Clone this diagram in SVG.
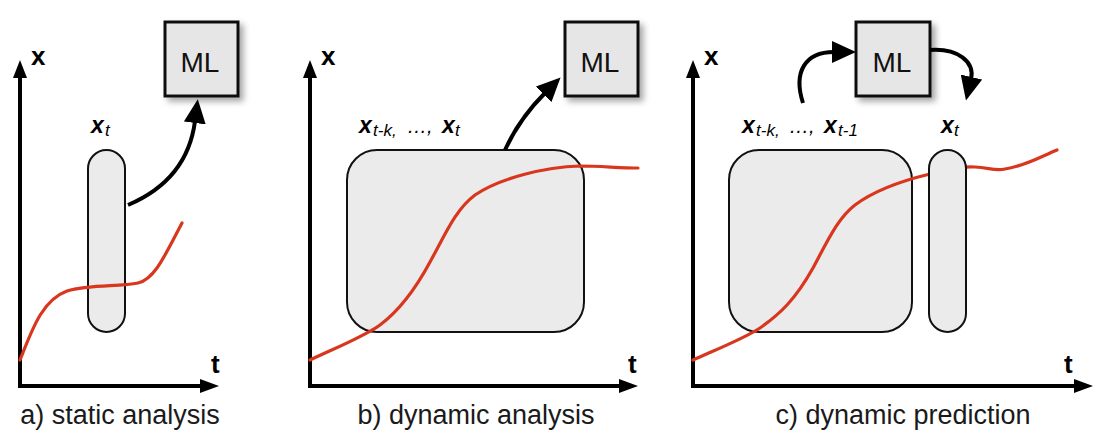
<svg xmlns="http://www.w3.org/2000/svg" width="1100" height="440" viewBox="0 0 1100 440">
<style>
.axis{fill:none;stroke:#000;stroke-width:4}
.head{fill:#000}
.region{fill:#ebebeb;stroke:#111;stroke-width:2}
.ml{fill:#e6e6e6;stroke:#111;stroke-width:3}
.mlt{font-family:"Liberation Sans",Arial,sans-serif;font-size:28px;fill:#111;text-anchor:middle}
.curve{fill:none;stroke:#d9361e;stroke-width:3.2;stroke-linecap:round}
.conn{fill:none;stroke:#000;stroke-width:4}
.ax{font-family:"Liberation Sans",Arial,sans-serif;font-size:26px;font-weight:bold;fill:#000}
.cap{font-family:"Liberation Sans",Arial,sans-serif;font-size:27px;fill:#1a1a1a;text-anchor:middle}
.v{font-family:"Liberation Sans",Arial,sans-serif;font-size:23px;font-weight:bold;font-style:italic;fill:#000}
.s{font-size:17px;font-weight:normal;font-style:italic}
.e{font-size:20px;font-weight:normal;font-style:italic}
</style>
<defs>
<filter id="sh" x="-20%" y="-20%" width="150%" height="150%">
<feDropShadow dx="4" dy="4" stdDeviation="3" flood-color="#000" flood-opacity="0.35"/>
</filter>
<marker id="ah" markerUnits="userSpaceOnUse" markerWidth="24" markerHeight="22" viewBox="0 0 24 22" refX="2" refY="11" orient="auto">
<path d="M0,0 L24,11 L0,22 z" fill="#000"/>
</marker>
</defs>

<g id="panel-a">
<g id="axes-a">
<path class="axis" d="M20,76 V386 H202"/>
<polygon class="head" points="20,60 13,78 27,78"/>
<polygon class="head" points="219,386 200,379 200,393"/>
<text class="ax" x="31" y="65">x</text>
<text class="ax" x="211" y="373">t</text>
</g>
<g id="xt-a">
<rect class="region" x="88" y="150" width="37" height="182" rx="18.5"/>
<text class="v" x="91" y="133">x<tspan class="s" x="105" y="136">t</tspan></text>
</g>
<path class="curve" d="M20,360 C32,330 42,300 67,291 C90,284 120,287 138,283 C155,279 165,255 182,223"/>
<g id="ml-a">
<rect class="ml" x="165" y="22" width="73" height="74" filter="url(#sh)"/>
<text class="mlt" x="200" y="72">ML</text>
</g>
<text class="cap" x="120" y="424">a) static analysis</text>
</g>

<g id="panel-b">
<g id="axes-b">
<path class="axis" d="M310,76 V386 H620"/>
<polygon class="head" points="310,60 303,78 317,78"/>
<polygon class="head" points="638,386 619,379 619,393"/>
<text class="ax" x="321" y="65">x</text>
<text class="ax" x="628" y="373">t</text>
</g>
<g id="window-b">
<rect class="region" x="347" y="150" width="237" height="182" rx="30"/>
<text class="v" x="359" y="133">x<tspan class="s" x="373" y="136">t-k,</tspan><tspan class="e" x="407" y="133">…,</tspan><tspan x="442" y="133">x</tspan><tspan class="s" x="455" y="136">t</tspan></text>
</g>
<path class="curve" d="M310,360 C340,346 365,336 380,325 C400,310 415,290 430,262 C445,235 455,210 475,195 C500,178 545,167 580,166 C600,166 620,168 638,168"/>
<g id="ml-b">
<rect class="ml" x="565" y="22" width="73" height="74" filter="url(#sh)"/>
<text class="mlt" x="600" y="72">ML</text>
</g>
<text class="cap" x="476" y="424">b) dynamic analysis</text>
</g>

<g id="panel-c">
<g id="axes-c">
<path class="axis" d="M693,76 V386 H1075"/>
<polygon class="head" points="693,60 686,78 700,78"/>
<polygon class="head" points="1093,386 1074,379 1074,393"/>
<text class="ax" x="704" y="65">x</text>
<text class="ax" x="1064" y="373">t</text>
</g>
<g id="window-c">
<rect class="region" x="729" y="150" width="183" height="182" rx="30"/>
<text class="v" x="742" y="133">x<tspan class="s" x="756" y="136">t-k,</tspan><tspan class="e" x="789" y="133">…,</tspan><tspan x="824" y="133">x</tspan><tspan class="s" x="838" y="136">t-1</tspan></text>
</g>
<path class="curve" d="M693,360 C720,348 745,338 760,328 C780,314 795,300 813,268 C828,240 838,218 855,205 C875,190 905,180 930,174 C945,170 960,166 975,167 C990,168 995,171 1005,169 C1025,166 1040,157 1057,150"/>
<g id="xt-c">
<rect class="region" x="929" y="150" width="37" height="182" rx="18.5"/>
<text class="v" x="941" y="133">x<tspan class="s" x="954" y="136">t</tspan></text>
</g>
<g id="ml-c">
<rect class="ml" x="856" y="22" width="74" height="74" filter="url(#sh)"/>
<text class="mlt" x="892" y="72">ML</text>
</g>
<text class="cap" x="903" y="424">c) dynamic prediction</text>
</g>

<g id="connectors">
<path class="conn" marker-end="url(#ah)" d="M128,205 C168,188 190,160 195,121"/>
<path class="conn" marker-end="url(#ah)" d="M505,150 C515,128 528,110 545,93"/>
<path class="conn" marker-end="url(#ah)" d="M803,103 C793,72 805,52 834,52"/>
<path class="conn" marker-end="url(#ah)" d="M930,50 C958,48 975,62 971,79"/>
</g>
</svg>
